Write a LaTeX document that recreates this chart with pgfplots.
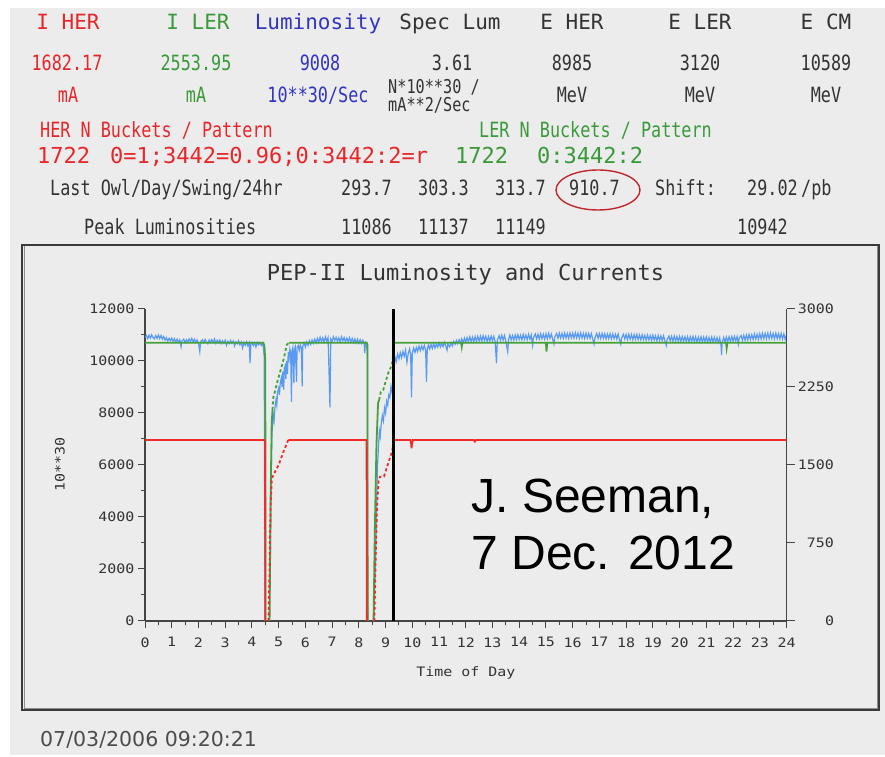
\documentclass[border=0pt]{standalone}
\usepackage{fontspec}
\usepackage{pgfplots}
\pgfplotsset{compat=1.18}
\setmainfont{DejaVu Sans}
\newfontfamily\monofam{DejaVu Sans Mono}
\newfontfamily\narrowfam[FakeStretch=0.8]{DejaVu Sans Mono}
\newfontfamily\plotfam[FakeStretch=1.15]{DejaVu Sans Mono}
\newfontfamily\arialfam{Liberation Sans}
\newcommand\plotfont{\plotfam\fontsize{13bp}{15bp}\selectfont}
\newcommand\headfont{\monofam\fontsize{21bp}{25bp}\selectfont}
\newcommand\valfont{\narrowfam\fontsize{21bp}{25bp}\selectfont}
\newcommand\patfont{\monofam\fontsize{22bp}{26bp}\selectfont}

\definecolor{bg}{HTML}{ECECEC}
\definecolor{herred}{HTML}{E8262A}
\definecolor{lergreen}{HTML}{3A9A3A}
\definecolor{lumblue}{HTML}{3434C4}
\definecolor{txt}{HTML}{333333}
\definecolor{lumline}{HTML}{5A9BF2}
\definecolor{curgreen}{HTML}{45A23A}
\definecolor{curred}{HTML}{F22A2A}
\definecolor{axisgrey}{HTML}{444444}
\definecolor{framegrey}{HTML}{3A3A3A}
\definecolor{ringred}{HTML}{C0282D}

\pgfplotsset{
  panel/.style={
    at={(145bp,136bp)}, anchor=south west,
    scale only axis, width=641.5bp, height=312bp,
    xmin=0, xmax=24,
    axis line style={draw=axisgrey, line width=1.3bp, -},
    tick align=outside,
    every tick/.style={draw=axisgrey, line width=1bp},
    major tick length=7bp, minor tick length=4bp,
    tick label style={font=\plotfont, text=txt},
    /pgf/number format/assume math mode=true,
    /pgf/number format/set thousands separator={},
  },
  refill/.style={dash pattern=on 3bp off 2.5bp},
}

\begin{document}
\begin{tikzpicture}[x=1bp,y=1bp]
\useasboundingbox (0,0) rectangle (885,757);
\fill[white] (0,0) rectangle (885,757);
\fill[bg] (10,2) rectangle (885,749);

% ---- header block ----
\begin{scope}[every node/.style={anchor=base, inner sep=0pt}]
\node[font=\headfont, text=herred]  at (68,727)  {I HER};
\node[font=\headfont, text=lergreen] at (198,727) {I LER};
\node[font=\headfont, text=lumblue] at (318,727) {Luminosity};
\node[font=\headfont, text=txt] at (450,727) {Spec Lum};
\node[font=\headfont, text=txt] at (572,727) {E HER};
\node[font=\headfont, text=txt] at (700,727) {E LER};
\node[font=\headfont, text=txt] at (826,727) {E CM};

\node[font=\valfont, text=herred]  at (67,686)  {1682.17};
\node[font=\valfont, text=lergreen] at (196,686) {2553.95};
\node[font=\valfont, text=lumblue] at (320,686) {9008};
\node[font=\valfont, text=txt] at (452,686) {3.61};
\node[font=\valfont, text=txt] at (572,686) {8985};
\node[font=\valfont, text=txt] at (700,686) {3120};
\node[font=\valfont, text=txt] at (826,686) {10589};

\node[font=\valfont, text=herred]  at (68,654)  {mA};
\node[font=\valfont, text=lergreen] at (196,654) {mA};
\node[font=\valfont, text=lumblue] at (318,654) {10**30/Sec};
\node[font=\valfont, text=txt] at (572,654) {MeV};
\node[font=\valfont, text=txt] at (700,654) {MeV};
\node[font=\valfont, text=txt] at (826,654) {MeV};
\node[anchor=base west, font={\narrowfam\fontsize{19bp}{20bp}\selectfont}, text=txt] at (388,663) {N*10**30 /};
\node[anchor=base west, font={\narrowfam\fontsize{19bp}{20bp}\selectfont}, text=txt] at (388,645) {mA**2/Sec};

\node[anchor=base west, font=\valfont, text=herred] at (40,619) {HER N Buckets / Pattern};
\node[anchor=base west, font=\valfont, text=lergreen] at (479,619) {LER N Buckets / Pattern};

\node[anchor=base west, font=\patfont, text=herred] at (37,593) {1722};
\node[anchor=base west, font=\patfont, text=herred] at (110,593) {0=1;3442=0.96;0:3442:2=r};
\node[anchor=base west, font=\patfont, text=lergreen] at (455,593) {1722};
\node[anchor=base west, font=\patfont, text=lergreen] at (537,593) {0:3442:2};

\node[anchor=base west, font=\valfont, text=txt] at (50,561) {Last Owl/Day/Swing/24hr};
\node[anchor=base west, font=\valfont, text=txt] at (341,561) {293.7};
\node[anchor=base west, font=\valfont, text=txt] at (418,561) {303.3};
\node[anchor=base west, font=\valfont, text=txt] at (495,561) {313.7};
\node[anchor=base west, font=\valfont, text=txt] at (569,561) {910.7};
\node[anchor=base west, font=\valfont, text=txt] at (655,561) {Shift:};
\node[anchor=base west, font=\valfont, text=txt] at (747,561) {29.02};
\node[anchor=base west, font=\valfont, text=txt] at (801,561) {/pb};

\node[anchor=base west, font=\valfont, text=txt] at (84,522) {Peak Luminosities};
\node[anchor=base west, font=\valfont, text=txt] at (341,522) {11086};
\node[anchor=base west, font=\valfont, text=txt] at (418,522) {11137};
\node[anchor=base west, font=\valfont, text=txt] at (495,522) {11149};
\node[anchor=base west, font=\valfont, text=txt] at (737,522) {10942};
\end{scope}
\draw[ringred, line width=1.4bp] (598,567) ellipse [x radius=42, y radius=20];

% ---- chart panel ----
\draw[black!45, line width=1bp] (24,48.5) rectangle (877,511);
\draw[framegrey, line width=2bp] (22,47) rectangle (879,512);
\node[anchor=base, font={\monofam\fontsize{22bp}{26bp}\selectfont}, text=txt] at (465.5,476) {PEP-II Luminosity and Currents};

% luminosity, left scale
\begin{axis}[panel,
  ymin=0, ymax=12000,
  axis x line*=bottom, axis y line*=left,
  xtick={0,1,...,24}, minor x tick num=1,
  ytick={0,2000,...,12000}, minor y tick num=1,
  xticklabel style={yshift=-6bp},
  scaled y ticks=false,
  xlabel={Time of Day}, ylabel={10**30},
  every axis x label/.style={at={(rel axis cs:0.5,0)}, yshift=-52bp, anchor=center, font=\plotfont, text=txt},
  every axis y label/.style={at={(rel axis cs:0,0.5)}, xshift=-85bp, anchor=center, rotate=90, font=\plotfont, text=txt},
]
\addplot[lumline, line width=1.2bp] coordinates {
(0.00,10900) (0.05,10980) (0.10,10860) (0.15,10990) (0.20,10880) (0.25,11010) (0.30,10900) (0.35,10850)
(0.40,10980) (0.45,10870) (0.50,11000) (0.55,10860) (0.60,10980) (0.65,10840) (0.70,10940) (0.75,10800)
(0.80,10900) (0.85,10770) (0.90,10870) (0.95,10780) (1.00,10880) (1.05,10750) (1.10,10860) (1.15,10730)
(1.20,10840) (1.25,10720) (1.30,10820) (1.35,10550) (1.38,10760) (1.45,10840) (1.50,10710) (1.55,10820)
(1.60,10720) (1.65,10850) (1.70,10740) (1.75,10870) (1.80,10730) (1.85,10840) (1.90,10710) (1.95,10810)
(2.00,10690) (2.05,10360) (2.08,10740) (2.15,10820) (2.20,10700) (2.25,10830) (2.30,10730) (2.35,10660)
(2.40,10810) (2.45,10700) (2.50,10820) (2.55,10710) (2.60,10850) (2.65,10680) (2.70,10800) (2.75,10700)
(2.80,10810) (2.85,10670) (2.90,10780) (2.95,10680) (3.00,10800) (3.05,10600) (3.10,10760) (3.15,10670)
(3.20,10790) (3.25,10680) (3.30,10770) (3.35,10580) (3.40,10740) (3.45,10660) (3.50,10780) (3.55,10620)
(3.60,10730) (3.65,10500) (3.70,10710) (3.75,10600) (3.80,10740) (3.85,10580) (3.90,10700) (3.93,9920)
(3.96,10650) (4.00,10720) (4.05,10590) (4.10,10700) (4.15,10540) (4.20,10720) (4.25,10620) (4.30,10710)
(4.35,10600) (4.40,10690) (4.43,10500) (4.46,10150) (4.49,0)
};
\addplot[lumline, line width=1.2bp] coordinates {
(4.65,0) (4.68,1500) (4.70,3500) (4.72,5600) (4.75,7200) (4.78,7600) (4.80,7900) (4.83,7700)
(4.86,8200) (4.90,8500) (4.93,8300) (4.96,8800) (5.00,8950) (5.03,8700) (5.06,9150) (5.10,9350)
(5.13,9000) (5.16,9600) (5.19,8900) (5.21,9700) (5.24,9800) (5.27,9300) (5.30,10000) (5.33,9500)
(5.36,10350) (5.39,10100) (5.42,10450) (5.45,10300) (5.48,8430) (5.50,10400) (5.53,10520) (5.57,9150)
(5.59,10450) (5.62,10550) (5.67,9200) (5.69,10500) (5.73,10600) (5.77,10400) (5.81,10620) (5.85,10500)
(5.88,9020) (5.90,10560) (5.95,10700) (6.00,10540) (6.05,10730) (6.10,10600) (6.15,10780) (6.20,10640)
(6.25,10810) (6.30,10680) (6.35,10840) (6.40,10700) (6.45,10870) (6.50,10720) (6.55,10910) (6.60,10750)
(6.65,10890) (6.70,10730) (6.75,10930) (6.80,10770) (6.85,10900) (6.92,8220) (6.95,10850) (7.00,10750)
(7.05,10930) (7.10,10790) (7.15,10910) (7.20,10760) (7.25,10890) (7.30,10740) (7.35,10930) (7.40,10770)
(7.45,10900) (7.50,10730) (7.55,10880) (7.60,10750) (7.65,10900) (7.70,10730) (7.75,10870) (7.80,10710)
(7.85,10850) (7.90,10690) (7.95,10840) (8.00,10680) (8.05,10820) (8.10,10670) (8.15,10800) (8.20,10660)
(8.22,10300) (8.25,10720) (8.30,10650) (8.32,10200) (8.34,0)
};
\addplot[lumline, line width=1.2bp] coordinates {
(8.55,0) (8.60,1500) (8.64,3000) (8.67,4800) (8.70,6000) (8.74,6800) (8.77,7300) (8.80,7100)
(8.84,7600) (8.88,7900) (8.92,7700) (8.96,8200) (9.00,8000) (9.04,8450) (9.08,8300) (9.12,8700)
(9.16,8600) (9.20,9000) (9.24,8800) (9.28,9400) (9.32,9800) (9.35,10150) (9.40,9980) (9.45,10270)
(9.50,10080) (9.55,10320) (9.60,10130) (9.65,10370) (9.70,10180) (9.75,10420) (9.80,9950) (9.85,10300)
(9.90,10470) (9.94,10230) (9.97,8600) (10.00,10300) (10.05,10500) (10.10,10330) (10.15,10520) (10.20,10360)
(10.25,10570) (10.30,10400) (10.35,10580) (10.40,10430) (10.45,10600) (10.50,10400) (10.53,9200) (10.56,10450)
(10.60,10620) (10.65,10460) (10.70,10640) (10.75,10480) (10.80,10670) (10.85,10500) (10.90,10660) (10.95,10530)
(11.00,10700) (11.05,10540) (11.10,10680) (11.15,10550) (11.20,10720) (11.25,10580) (11.30,10420) (11.33,10650)
(11.40,10540) (11.45,10710) (11.50,10580) (11.55,10760) (11.60,10640) (11.65,10790) (11.70,10660) (11.75,10820)
(11.80,10690) (11.85,10850) (11.90,10700) (11.95,10880) (12.00,10720) (12.05,10900) (12.10,10740) (12.15,10930)
(12.20,10750) (12.25,10920) (12.30,10740) (12.35,10940) (12.40,10760) (12.45,10950) (12.50,10770) (12.55,10960)
(12.60,10760) (12.65,10970) (12.70,10780) (12.75,10950) (12.80,10750) (12.85,10940) (12.90,10760) (12.95,10960)
(13.00,10780) (13.05,10950) (13.10,10740) (13.15,9910) (13.18,10800) (13.25,10970) (13.30,10790) (13.35,10990)
(13.40,10800) (13.45,10980) (13.50,10760) (13.57,10360) (13.60,10820) (13.65,11000) (13.70,10810) (13.75,10980)
(13.80,10800) (13.85,11000) (13.90,10820) (13.95,11010) (14.00,10830) (14.05,10990) (14.10,10810) (14.15,11020)
(14.20,10830) (14.25,11000) (14.30,10820) (14.35,11030) (14.40,10840) (14.45,11000) (14.50,10600) (14.53,10880)
(14.60,11040) (14.65,10850) (14.70,11030) (14.75,10840) (14.80,11050) (14.85,10860) (14.90,11030) (14.95,10840)
(15.00,11050) (15.05,10850) (15.10,11060) (15.15,10870) (15.20,11040) (15.25,10850) (15.30,10650) (15.33,10920)
(15.40,11060) (15.45,10870) (15.50,11070) (15.55,10880) (15.60,11060) (15.65,10870) (15.70,11080) (15.75,10880)
(15.80,11060) (15.85,10870) (15.90,11080) (15.95,10890) (16.00,11070) (16.05,10880) (16.10,11090) (16.15,10890)
(16.20,11070) (16.25,10870) (16.30,11080) (16.35,10880) (16.40,11060) (16.45,10860) (16.50,11070) (16.55,10880)
(16.60,11060) (16.65,10870) (16.70,11050) (16.75,10850) (16.80,10650) (16.83,10880) (16.90,11060) (16.95,10870)
(17.00,11050) (17.05,10860) (17.10,11060) (17.15,10870) (17.20,11050) (17.25,10850) (17.30,11040) (17.35,10860)
(17.40,11050) (17.45,10850) (17.50,11040) (17.55,10860) (17.60,11030) (17.65,10840) (17.70,11040) (17.75,10830)
(17.80,10650) (17.83,10880) (17.90,11030) (17.95,10840) (18.00,11020) (18.05,10830) (18.10,11030) (18.15,10840)
(18.20,11020) (18.25,10820) (18.30,11010) (18.35,10830) (18.40,11020) (18.45,10820) (18.50,11000) (18.55,10810)
(18.60,11010) (18.65,10820) (18.70,10990) (18.75,10800) (18.80,11000) (18.85,10810) (18.90,10980) (18.95,10790)
(19.00,10990) (19.05,10800) (19.10,10970) (19.15,10780) (19.20,10980) (19.25,10790) (19.30,10960) (19.35,10780)
(19.40,10970) (19.45,10770) (19.50,10600) (19.53,10820) (19.60,10960) (19.65,10770) (19.70,10950) (19.75,10760)
(19.80,10960) (19.85,10770) (19.90,10940) (19.95,10760) (20.00,10950) (20.05,10750) (20.10,10940) (20.15,10760)
(20.20,10930) (20.25,10750) (20.30,10940) (20.35,10740) (20.40,10930) (20.45,10750) (20.50,10940) (20.55,10740)
(20.60,10930) (20.65,10730) (20.70,10920) (20.75,10740) (20.80,10930) (20.85,10730) (20.90,10920) (20.95,10740)
(21.00,10930) (21.05,10730) (21.10,10910) (21.15,10720) (21.20,10920) (21.25,10730) (21.30,10910) (21.35,10720)
(21.40,10900) (21.45,10710) (21.50,10890) (21.55,10600) (21.57,10230) (21.59,10700) (21.65,10910) (21.70,10730)
(21.75,10920) (21.80,10740) (21.85,10930) (21.90,10750) (21.95,10940) (22.00,10760) (22.05,10950) (22.10,10770)
(22.15,10940) (22.20,10650) (22.23,10880) (22.30,10980) (22.35,10790) (22.40,10990) (22.45,10800) (22.50,11000)
(22.55,10810) (22.60,11020) (22.65,10820) (22.70,11010) (22.75,10830) (22.80,11040) (22.85,10840) (22.90,11030)
(22.95,10830) (23.00,11050) (23.05,10850) (23.10,11070) (23.15,10860) (23.20,11060) (23.25,10850) (23.30,11070)
(23.35,10860) (23.40,11080) (23.45,10870) (23.50,11060) (23.55,10850) (23.60,11070) (23.65,10860) (23.70,11050)
(23.75,10850) (23.80,11060) (23.85,10840) (23.90,11040) (23.95,10830) (24.00,11000)
};
\end{axis}

% beam currents, right scale (mA)
\begin{axis}[panel,
  ymin=0, ymax=3000,
  axis x line=none, axis y line*=right,
  ytick={0,750,1500,2250,3000},
  major tick length=8bp,
  yticklabel style={anchor=east, xshift=43bp},
]
% LER current
\addplot[curgreen, line width=1.8bp] coordinates {(0,2676) (4.43,2676) (4.47,2640) (4.50,2500) (4.51,0)};
\addplot[curgreen, line width=1.8bp] coordinates {(4.66,0) (4.70,1200) (4.74,1900) (4.77,2030)};
\addplot[curgreen, line width=1.8bp, refill] coordinates {(4.77,2030) (4.80,2150) (4.86,2205) (4.95,2300) (5.11,2445) (5.20,2530) (5.30,2654) (5.38,2676)};
\addplot[curgreen, line width=1.8bp] coordinates {(5.38,2676) (8.30,2676) (8.32,2660) (8.33,0)};
\addplot[curgreen, line width=1.8bp] coordinates {(8.55,0) (8.60,900) (8.66,1700) (8.72,2100) (8.76,2125)};
\addplot[curgreen, line width=1.8bp, refill] coordinates {(8.76,2125) (8.82,2200) (8.91,2220) (9.00,2300) (9.10,2385) (9.18,2430) (9.25,2480) (9.30,2600) (9.33,2676)};
\addplot[curgreen, line width=1.8bp] coordinates {(9.33,2676) (11.83,2676) (11.85,2640) (11.87,2676) (15.00,2676) (15.02,2590) (15.05,2676) (21.74,2676) (21.76,2625) (21.79,2676) (24,2676)};
% HER current
\addplot[curred, line width=1.8bp] coordinates {(0,1740) (4.47,1740) (4.49,1720) (4.50,0)};
\addplot[curred, line width=1.8bp, refill] coordinates {(4.62,0) (4.66,500) (4.70,1100) (4.74,1350) (4.77,1387) (5.00,1500) (5.20,1640) (5.36,1740)};
\addplot[curred, line width=1.8bp] coordinates {(5.36,1740) (8.28,1740) (8.29,1720) (8.30,0)};
\addplot[curred, line width=1.8bp, refill] coordinates {(8.58,0) (8.63,600) (8.68,1100) (8.74,1350) (8.79,1387) (8.94,1390) (9.22,1612) (9.30,1700) (9.33,1740)};
\addplot[curred, line width=1.8bp] coordinates {(9.33,1740) (9.93,1740) (9.96,1700) (9.97,1660) (9.99,1700) (10.02,1740) (12.30,1740) (12.34,1725) (12.38,1740) (24,1740)};
% present time marker
\addplot[black, line width=2.6bp] coordinates {(9.3,0) (9.3,3000)};
\end{axis}

\node[anchor=base west, font={\arialfam\fontsize{48bp}{57bp}\selectfont}] at (468,244) {J. Seeman,};
\node[anchor=base west, font={\arialfam\fontsize{48bp}{57bp}\selectfont}] at (468,187) {7 Dec. 2012};

\node[anchor=base west, inner sep=0pt, font={\fontsize{20.5bp}{24bp}\selectfont}, text=black!70] at (40,10) {07/03/2006 09:20:21};
\end{tikzpicture}
\end{document}
